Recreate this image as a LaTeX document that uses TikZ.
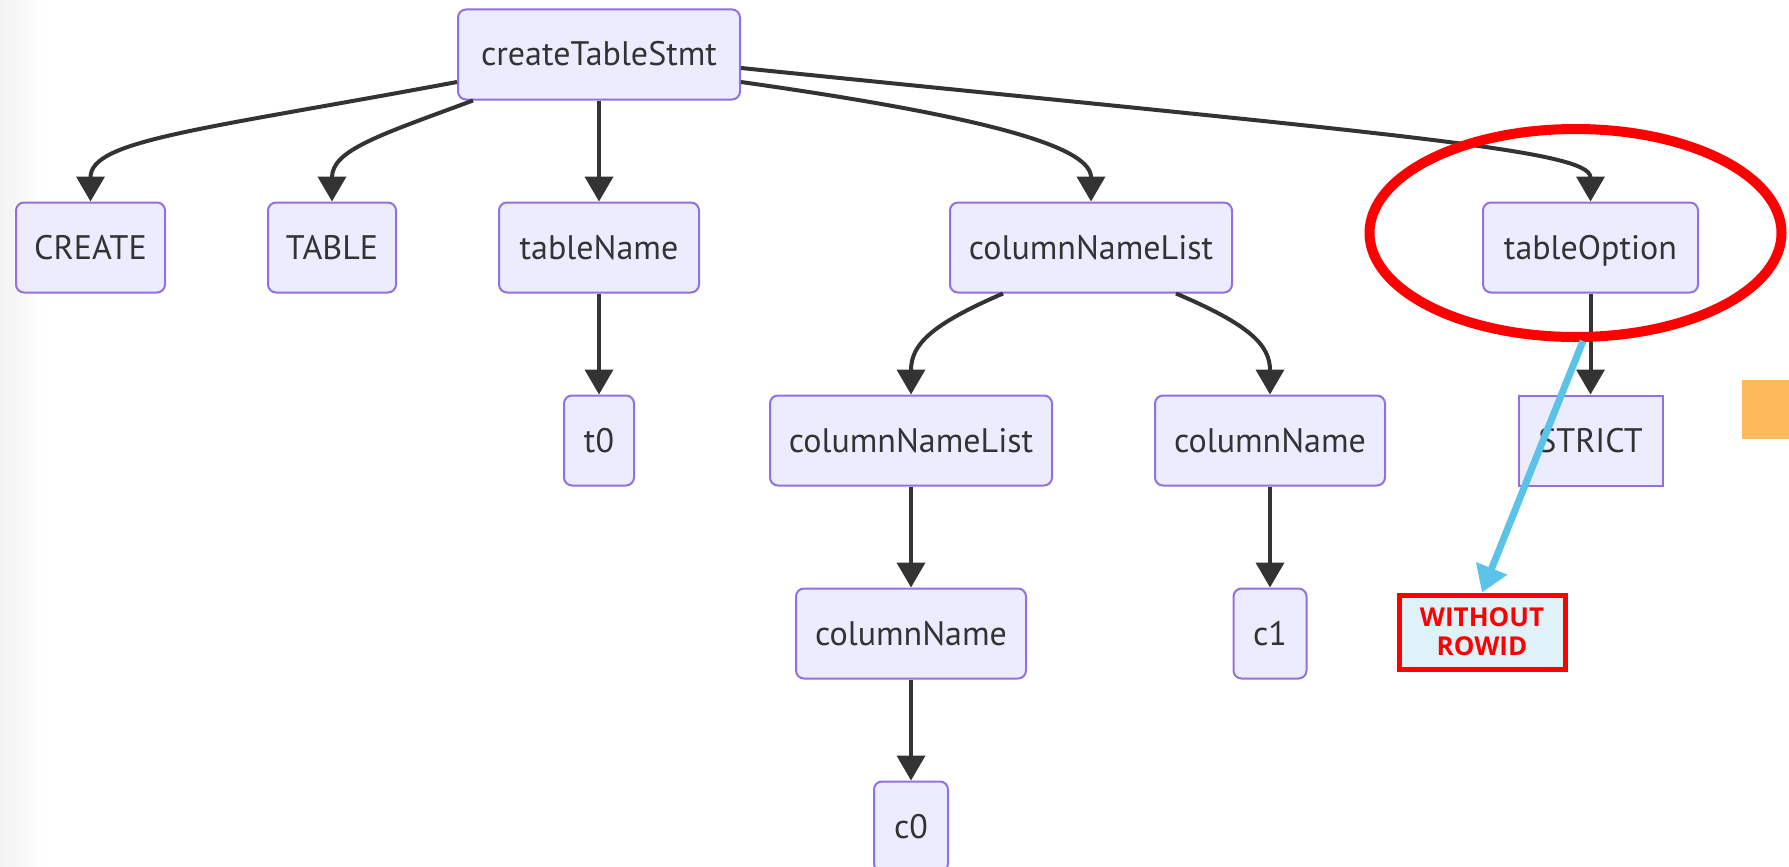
\documentclass[tikz,border=0pt]{standalone}
\usepackage{fontspec}
\setmainfont{PT Sans}
\newfontfamily\notefont{Open Sans}
\usetikzlibrary{arrows.meta,calc}
\definecolor{nodefill}{HTML}{ECECFF}
\definecolor{nodeborder}{HTML}{9370DB}
\definecolor{edgecol}{HTML}{333333}
\definecolor{txtcol}{HTML}{333333}
\definecolor{hlred}{HTML}{FF0000}
\definecolor{hlblue}{HTML}{5BC3E8}
\definecolor{notefill}{HTML}{DFF2FA}
\definecolor{orangecol}{HTML}{FFB85C}
\begin{document}
\begin{tikzpicture}[x=1pt,y=-1pt,
  tnode/.style={draw=nodeborder, fill=nodefill, line width=2pt, rounded corners=8pt,
    minimum height=90pt, inner sep=0pt, text=txtcol, text height=23pt, text depth=0pt,
    font=\fontsize{34}{40}\selectfont},
  sqnode/.style={tnode, sharp corners},
  edge/.style={draw=edgecol, line width=4pt, -{Triangle[length=25pt,width=28pt]}},
  hlarrow/.style={draw=hlblue, line width=7pt, -{Triangle[length=26pt,width=32pt]}},
  notebox/.style={draw=hlred, line width=5pt, fill=notefill, minimum width=166pt,
    minimum height=74pt, inner sep=0pt, text=hlred, align=center,
    font=\notefont\bfseries\fontsize{26}{29}\selectfont}
]
\useasboundingbox (0,0) rectangle (1789,867);
\fill[white] (0,0) rectangle (1789,867);
\shade[left color=black!5, right color=white] (0,0) rectangle (45,867);

% nodes
\node[tnode, minimum width=282pt] (root) at (599,54.5) {createTableStmt};
\node[tnode, minimum width=149pt] (create) at (90.5,247.5) {CREATE};
\node[tnode, minimum width=128pt] (table) at (332,247.5) {TABLE};
\node[tnode, minimum width=200pt] (tname) at (599,247.5) {tableName};
\node[tnode, minimum width=282pt] (cnl) at (1091,247.5) {columnNameList};
\node[tnode, minimum width=215pt] (topt) at (1590.5,247.5) {tableOption};
\node[tnode, minimum width=70pt] (t0) at (599,440.5) {t0};
\node[tnode, minimum width=282pt] (cnl2) at (911,440.5) {columnNameList};
\node[tnode, minimum width=230pt] (cn) at (1270,440.5) {columnName};
\node[sqnode, minimum width=144pt] (strict) at (1590.5,440.5) {STRICT};
\node[tnode, minimum width=230pt] (cn2) at (911,633.5) {columnName};
\node[tnode, minimum width=73pt] (c1) at (1270,633.5) {c1};
\node[tnode, minimum width=74pt] (c0) at (911,826.5) {c0};

% edges
\draw[edge] ([yshift=-27.5pt]root.west) .. controls (200,130) and (90.5,140) .. (create.north);
\draw[edge] ([xshift=16pt]root.south west) .. controls (380,135) and (332,150) .. (table.north);
\draw[edge] (root.south) -- (tname.north);
\draw[edge] ([yshift=-27.5pt]root.east) .. controls (1010,120) and (1091,150) .. (cnl.north);
\draw[edge] ([yshift=-13.5pt]root.east) .. controls (1400,135) and (1590.5,150) .. (topt.north);
\draw[edge] ([xshift=54pt]cnl.south west) .. controls (930,325) and (911,345) .. (cnl2.north);
\draw[edge] ([xshift=-57pt]cnl.south east) .. controls (1250,325) and (1270,345) .. (cn.north);
\draw[edge] (tname.south) -- (t0.north);
\draw[edge] (topt.south) -- (strict.north);
\draw[edge] (cnl2.south) -- (cn2.north);
\draw[edge] (cn.south) -- (c1.north);
\draw[edge] (cn2.south) -- (c0.north);

% annotations
\draw[hlred, line width=10pt] (1575.5,233) ellipse [x radius=206pt, y radius=104pt];
\node[notebox] (note) at (1482,632) {WITHOUT\\ROWID};
\coordinate (bstart) at (1583,341);
\draw[hlarrow] (bstart) -- (note.north);
\fill[orangecol] (1742,380) rectangle (1789,439);
\end{tikzpicture}
\end{document}
